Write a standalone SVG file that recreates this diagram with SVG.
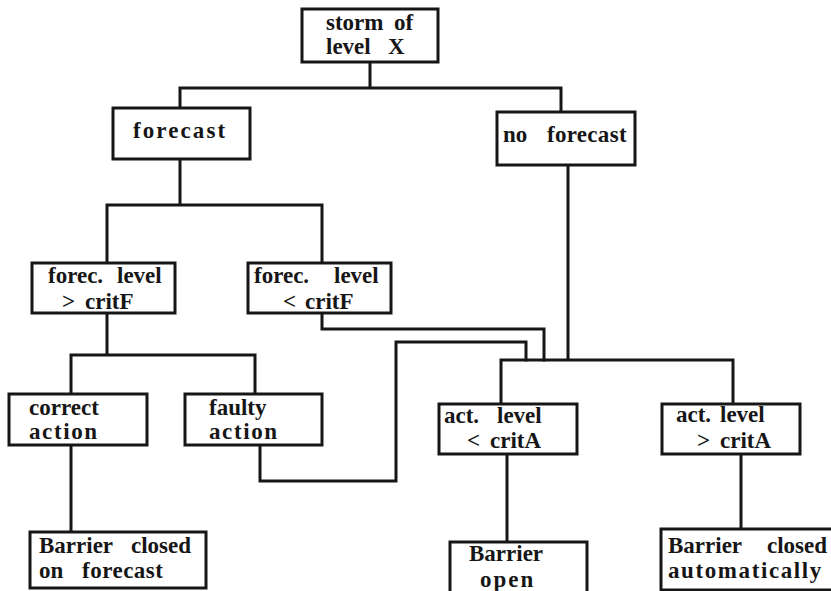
<svg xmlns="http://www.w3.org/2000/svg" width="831" height="591" viewBox="0 0 831 591">
  <style>
    .box { fill: #ffffff; stroke: #161616; stroke-width: 3; }
    .wire { fill: none; stroke: #161616; stroke-width: 3; stroke-linejoin: miter; stroke-linecap: square; }
    text { font-family: "Liberation Serif", "Times New Roman", serif; font-weight: bold; font-size: 23px; fill: #161616; }
    .ls2 { letter-spacing: 2.1px; }
    .ls15 { letter-spacing: 1.6px; }
  </style>
  <rect width="831" height="591" fill="#ffffff"/>

  <!-- connectors -->
  <g id="connectors">
    <path class="wire" d="M370,62 V88 M180,88 H561 M180,88 V108 M561,88 V112"/>
    <path class="wire" d="M180,159 V205 M107,205 H322 M107,205 V263 M322,205 V263"/>
    <path class="wire" d="M107,313 V355 M71,355 H255 M71,355 V394 M255,355 V394"/>
    <path class="wire" d="M322,313 V329 H544 V360"/>
    <path class="wire" d="M260,445 V481 H396 V342 H526 V360"/>
    <path class="wire" d="M568,165 V360 M501,360 H733 M501,360 V404 M733,360 V404"/>
    <path class="wire" d="M71,445 V532"/>
    <path class="wire" d="M507,454 V542"/>
    <path class="wire" d="M741,454 V529"/>
  </g>

  <g id="storm">
    <rect class="box" x="302" y="9" width="136" height="53"/>
    <text><tspan x="326" y="30">storm</tspan><tspan x="394" y="30">of</tspan><tspan x="326" y="54">level</tspan><tspan x="388" y="54">X</tspan></text>
  </g>

  <g id="forecast">
    <rect class="box" x="113" y="108" width="137" height="51"/>
    <text class="ls2" x="133" y="138">forecast</text>
  </g>

  <g id="no-forecast">
    <rect class="box" x="497" y="112" width="138" height="53"/>
    <text><tspan x="503" y="142">no</tspan><tspan x="547" y="142" style="letter-spacing:0.3px">forecast</tspan></text>
  </g>

  <g id="forec-above">
    <rect class="box" x="32" y="263" width="143" height="50"/>
    <text><tspan x="48" y="283">forec.</tspan><tspan x="117" y="283">level</tspan><tspan x="62" y="309">&gt;</tspan><tspan x="85" y="309">critF</tspan></text>
  </g>

  <g id="forec-below">
    <rect class="box" x="248" y="263" width="143" height="50"/>
    <text><tspan x="254" y="283">forec.</tspan><tspan x="334" y="283">level</tspan><tspan x="283" y="309">&lt;</tspan><tspan x="305" y="309">critF</tspan></text>
  </g>

  <g id="correct-action">
    <rect class="box" x="9" y="394" width="138" height="51"/>
    <text><tspan x="29" y="415">correct</tspan><tspan x="29" y="439" class="ls15">action</tspan></text>
  </g>

  <g id="faulty-action">
    <rect class="box" x="185" y="394" width="137" height="51"/>
    <text><tspan x="209" y="415">faulty</tspan><tspan x="209" y="439" class="ls15">action</tspan></text>
  </g>

  <g id="act-below">
    <rect class="box" x="439" y="404" width="138" height="50"/>
    <text><tspan x="444" y="423">act.</tspan><tspan x="497" y="423">level</tspan><tspan x="467" y="448">&lt;</tspan><tspan x="490" y="448">critA</tspan></text>
  </g>

  <g id="act-above">
    <rect class="box" x="662" y="404" width="138" height="50"/>
    <text><tspan x="676" y="422">act.</tspan><tspan x="720" y="422">level</tspan><tspan x="697" y="448">&gt;</tspan><tspan x="720" y="448">critA</tspan></text>
  </g>

  <g id="closed-on-forecast">
    <rect class="box" x="30" y="532" width="176" height="56"/>
    <text><tspan x="39" y="553">Barrier</tspan><tspan x="131" y="553">closed</tspan><tspan x="39" y="578">on</tspan><tspan x="82" y="578" style="letter-spacing:0.5px">forecast</tspan></text>
  </g>

  <g id="barrier-open">
    <rect class="box" x="450" y="542" width="137" height="56"/>
    <text><tspan x="469" y="561">Barrier</tspan><tspan x="480" y="587" style="letter-spacing:2px">open</tspan></text>
  </g>

  <g id="closed-automatically">
    <rect class="box" x="661" y="529" width="176" height="61"/>
    <text><tspan x="668" y="553">Barrier</tspan><tspan x="767" y="553">closed</tspan><tspan x="668" y="578" class="ls15">automatically</tspan></text>
  </g>
</svg>
